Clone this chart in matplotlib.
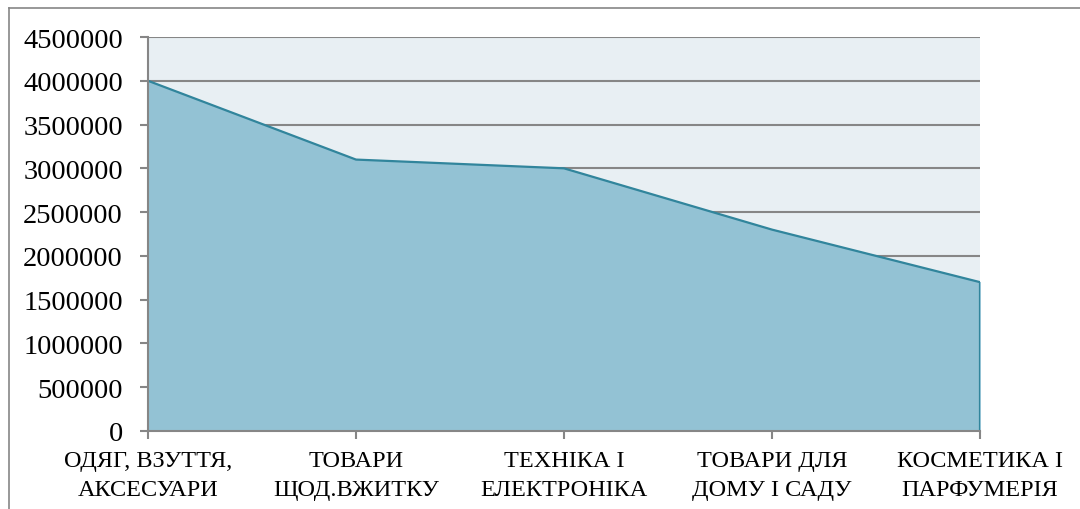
import matplotlib.pyplot as plt
from matplotlib.lines import Line2D

# Data
categories = ["ОДЯГ, ВЗУТТЯ,\nАКСЕСУАРИ", "ТОВАРИ\nЩОД.ВЖИТКУ", "ТЕХНІКА І\nЕЛЕКТРОНІКА",
              "ТОВАРИ ДЛЯ\nДОМУ І САДУ", "КОСМЕТИКА І\nПАРФУМЕРІЯ"]
values = [4000000, 3100000, 3000000, 2300000, 1700000]
yticks = [0, 500000, 1000000, 1500000, 2000000, 2500000, 3000000, 3500000, 4000000, 4500000]

plt.rcParams['font.family'] = ['Liberation Serif', 'DejaVu Serif']

fig = plt.figure(figsize=(10.8, 5.1), dpi=100)
ax = fig.add_axes([148 / 1080, 78 / 510, 832 / 1080, 394 / 510])
ax.set_facecolor('#e8eff3')

x = list(range(len(values)))
ax.fill_between(x, values, 0, color='#93c2d4', zorder=2)
ax.plot(x + [x[-1]], values + [0], color='#31859c', lw=1.6, zorder=3)

ax.set_xlim(0, len(values) - 1)
ax.set_ylim(0, 4500000)
ax.set_yticks(yticks)
ax.set_yticklabels([str(v) for v in yticks])
ax.set_xticks(x)
ax.set_xticklabels(categories, linespacing=1.5)

ax.grid(axis='y', color='#868686', lw=1.5, zorder=1)
ax.set_axisbelow(True)
for s in ['top', 'right']:
    ax.spines[s].set_visible(False)
for s in ['left', 'bottom']:
    ax.spines[s].set_color('#868686')
    ax.spines[s].set_linewidth(1.5)
    ax.spines[s].set_zorder(4)

ax.tick_params(axis='y', length=6, width=1.5, color='#868686', pad=12, labelsize=20.5)
ax.tick_params(axis='x', length=6, width=1.5, color='#868686', pad=8, labelsize=17.5)

# outer chart border (only top and left visible in the picture)
fig.add_artist(Line2D([9 / 1080, 9 / 1080], [0, 1 - 9 / 510], transform=fig.transFigure,
                      color='#868686', lw=1.2))
fig.add_artist(Line2D([9 / 1080, 1], [1 - 9 / 510, 1 - 9 / 510], transform=fig.transFigure,
                      color='#868686', lw=1.2))

fig.savefig('out.png', dpi=100)
